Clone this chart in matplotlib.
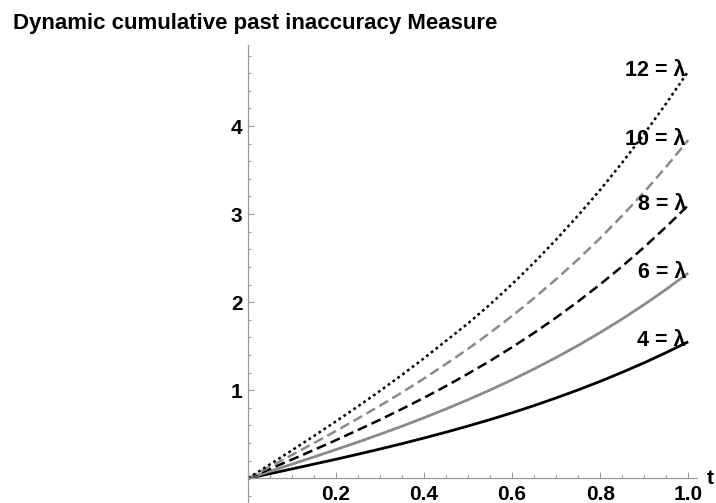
import numpy as np
import matplotlib.pyplot as plt
from matplotlib.ticker import MultipleLocator, FixedLocator

# values
t = [0.0, 0.05, 0.1, 0.15, 0.2, 0.25, 0.3, 0.35, 0.4, 0.45, 0.5,
     0.55, 0.6, 0.65, 0.7, 0.75, 0.8, 0.85, 0.9, 0.95, 1.0]
lam4 = [0, 0.053, 0.107, 0.162, 0.217, 0.274, 0.333, 0.394, 0.458, 0.524, 0.594,
        0.667, 0.744, 0.826, 0.913, 1.004, 1.101, 1.204, 1.312, 1.428, 1.55]
lam6 = [0, 0.080, 0.161, 0.243, 0.327, 0.412, 0.501, 0.592, 0.688, 0.788, 0.893,
        1.003, 1.119, 1.242, 1.372, 1.509, 1.655, 1.809, 1.973, 2.146, 2.33]
lam8 = [0, 0.107, 0.214, 0.323, 0.434, 0.549, 0.666, 0.788, 0.915, 1.048, 1.188,
        1.334, 1.489, 1.652, 1.825, 2.008, 2.202, 2.407, 2.625, 2.856, 3.10]
lam10 = [0, 0.132, 0.266, 0.401, 0.538, 0.680, 0.825, 0.976, 1.134, 1.299, 1.471,
         1.653, 1.844, 2.047, 2.261, 2.487, 2.727, 2.982, 3.251, 3.537, 3.84]
lam12 = [0, 0.159, 0.319, 0.482, 0.648, 0.818, 0.993, 1.175, 1.364, 1.562, 1.760,
         1.975, 2.205, 2.450, 2.710, 2.985, 3.275, 3.584, 3.910, 4.256, 4.62]
labels = ["4", "6", "8", "10", "12"]
xticks = [0.2, 0.4, 0.6, 0.8, 1.0]
yticks = [1, 2, 3, 4]

plt.rcParams['font.family'] = ['Liberation Sans', 'DejaVu Sans']
plt.rcParams['font.weight'] = 'bold'

fig = plt.figure(figsize=(7.16, 5.03), dpi=100)
ax = fig.add_axes([248 / 716, 0.0, 449 / 716, 458 / 503])

gray = '#8a8a8a'
series = [
    (lam4, dict(color='black', lw=2.0, ls='-')),
    (lam6, dict(color=gray, lw=2.0, ls='-')),
    (lam8, dict(color='black', lw=1.8, ls=(0, (4, 2)))),
    (lam10, dict(color=gray, lw=1.8, ls=(0, (4, 2)))),
    (lam12, dict(color='black', lw=1.8, ls=(0, (1.1, 1.3)))),
]
for (vals, st), lab in zip(series, labels):
    ax.plot(t, vals, solid_capstyle='butt', **st)
    ax.text(0.995, vals[-1] - 0.05, lab + " = \u03bb", ha='right', va='baseline',
            fontsize=15.5, fontweight='bold')

ax.set_xlim(0, 1.02)
ax.set_ylim(-0.28, 4.92)

for s in ['top', 'right']:
    ax.spines[s].set_visible(False)
ax.spines['left'].set_position(('data', 0))
ax.spines['bottom'].set_position(('data', 0))
for s in ['left', 'bottom']:
    ax.spines[s].set_color('#999999')
    ax.spines[s].set_linewidth(0.9)

ax.xaxis.set_major_locator(FixedLocator(xticks))
ax.xaxis.set_minor_locator(MultipleLocator(0.05))
ax.yaxis.set_major_locator(FixedLocator(yticks))
ax.yaxis.set_minor_locator(MultipleLocator(0.2))
ax.set_xticklabels(["%.1f" % v for v in xticks])
ax.set_yticklabels([str(v) for v in yticks])
ax.tick_params(which='both', direction='in', color='#999999', width=0.8,
               labelsize=15)
ax.tick_params(which='major', length=4.5)
ax.tick_params(which='minor', length=2.5)
ax.tick_params(axis='x', which='major', pad=5)
ax.tick_params(axis='y', which='major', pad=4)

ax.text(1.05, 0.0, "t", ha='center', va='center', fontsize=15,
        fontweight='bold', clip_on=False)

fig.text(13 / 716, 1 - 24 / 503, "Dynamic cumulative past inaccuracy Measure",
         ha='left', va='center', fontsize=16, fontweight='bold')

fig.savefig('out.png', dpi=100)
